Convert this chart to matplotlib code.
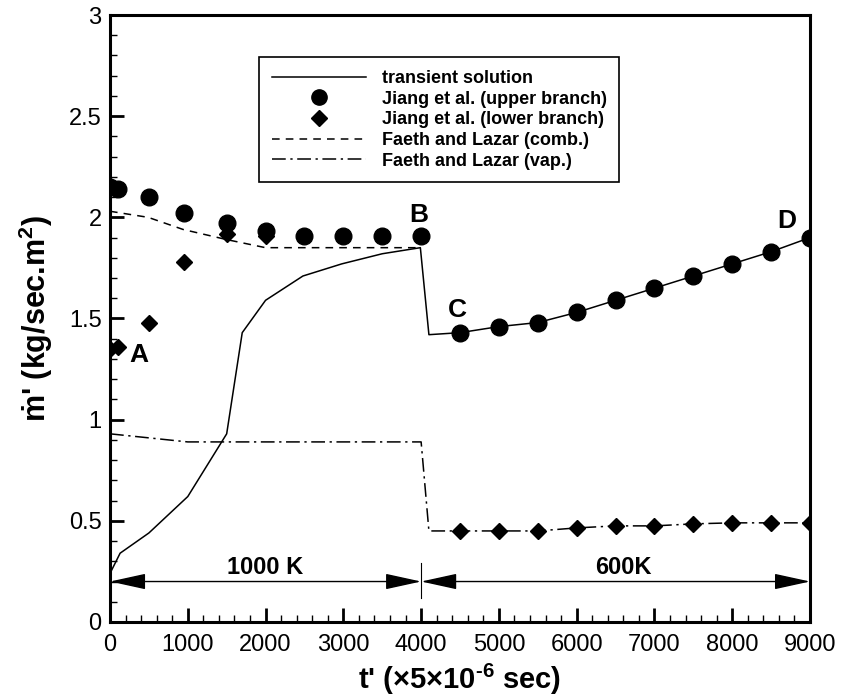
import matplotlib
matplotlib.use("Agg")
import matplotlib.pyplot as plt
from matplotlib.ticker import MultipleLocator

plt.rcParams['font.family'] = ['Liberation Sans', 'DejaVu Sans']
plt.rcParams['mathtext.default'] = 'regular'

# transient solution
t_trans = [0, 130, 500, 1000, 1500, 1700, 2000, 2480, 2980, 3500, 3990, 4100,
           4500, 5000, 5500, 6000, 6500, 7000, 7500, 8000, 8500, 9000]
m_trans = [0.24, 0.34, 0.44, 0.62, 0.93, 1.43, 1.59, 1.71, 1.77, 1.82, 1.85, 1.42,
           1.43, 1.46, 1.48, 1.53, 1.59, 1.65, 1.71, 1.77, 1.83, 1.90]

# Jiang et al. upper branch
t_up = [0, 100, 500, 950, 1500, 2000, 2500, 3000, 3500, 4000,
        4500, 5000, 5500, 6000, 6500, 7000, 7500, 8000, 8500, 9000]
m_up = [2.15, 2.14, 2.10, 2.02, 1.97, 1.93, 1.91, 1.91, 1.91, 1.91,
        1.43, 1.46, 1.48, 1.53, 1.59, 1.65, 1.71, 1.77, 1.83, 1.90]

# Jiang et al. lower branch
t_low = [0, 100, 500, 950, 1500, 2000,
         4500, 5000, 5500, 6000, 6500, 7000, 7500, 8000, 8500, 9000]
m_low = [1.35, 1.36, 1.48, 1.78, 1.92, 1.91,
         0.45, 0.45, 0.45, 0.465, 0.475, 0.475, 0.485, 0.49, 0.49, 0.49]

# Faeth and Lazar (comb.)
t_comb = [0, 490, 940, 1500, 2000, 4000]
m_comb = [2.03, 2.00, 1.94, 1.89, 1.85, 1.85]

# Faeth and Lazar (vap.)
t_vap = [0, 1000, 4000, 4100, 4500, 5000, 5500, 6000, 6500, 7000, 7500, 8000, 8500, 9000]
m_vap = [0.93, 0.89, 0.89, 0.45, 0.45, 0.45, 0.45, 0.465, 0.475, 0.475, 0.485, 0.49, 0.49, 0.49]

points = {'A': (375, 1.32), 'B': (3970, 2.01), 'C': (4470, 1.54), 'D': (8700, 1.98)}

fig = plt.figure(figsize=(8.41, 6.98), dpi=100)
ax = fig.add_axes([0.1308, 0.1089, 0.8324, 0.8696])

ax.plot(t_trans, m_trans, color='black', lw=1.1, label='transient solution')
ax.plot(t_up, m_up, 'o', color='black', ms=12, label='Jiang et al. (upper branch)')
ax.plot(t_low, m_low, 'D', color='black', ms=8.5, label='Jiang et al. (lower branch)')
ax.plot(t_comb, m_comb, color='black', lw=1.1, ls=(0, (5, 4)), label='Faeth and Lazar (comb.)')
ax.plot(t_vap, m_vap, color='black', lw=1.1, ls=(0, (9, 3, 1.5, 3)), label='Faeth and Lazar (vap.)')

for name, (x, y) in points.items():
    ax.text(x, y, name, fontsize=19, fontweight='bold', ha='center', va='center')

# temperature ranges
arrow = dict(arrowstyle='<|-|>,head_length=1.6,head_width=0.35', color='black', lw=1,
             shrinkA=0, shrinkB=0, mutation_scale=14)
ax.annotate('', xy=(0, 0.2), xytext=(4000, 0.2), arrowprops=arrow)
ax.annotate('', xy=(4000, 0.2), xytext=(9000, 0.2), arrowprops=arrow)
ax.plot([4000, 4000], [0.12, 0.29], color='black', lw=0.8)
ax.text(2000, 0.27, '1000 K', fontsize=17, fontweight='bold', ha='center', va='center')
ax.text(6600, 0.27, '600K', fontsize=17, fontweight='bold', ha='center', va='center')

ax.set_xlim(0, 9000)
ax.set_ylim(0, 3)
ax.xaxis.set_major_locator(MultipleLocator(1000))
ax.xaxis.set_minor_locator(MultipleLocator(200))
ax.yaxis.set_major_locator(MultipleLocator(0.5))
ax.yaxis.set_minor_locator(MultipleLocator(0.1))
ax.set_yticks([0, 0.5, 1, 1.5, 2, 2.5, 3], ['0', '0.5', '1', '1.5', '2', '2.5', '3'])
ax.tick_params(which='major', direction='in', length=10, width=2, labelsize=17)
ax.tick_params(axis='x', which='major', pad=9)
ax.tick_params(axis='y', which='major', pad=6)
ax.tick_params(which='minor', direction='in', length=5, width=1)
for s in ax.spines.values():
    s.set_linewidth(2.2)

ax.set_xlabel("t' ($\\times$5$\\times$10$^{\u20106}$ sec)", fontsize=21, fontweight='bold', labelpad=4)
ax.set_ylabel("ṁ' (kg/sec.m$^{2}$)", fontsize=22, fontweight='bold', labelpad=10)

leg = ax.legend(loc='upper left', bbox_to_anchor=(0.2, 0.945), fancybox=False,
                edgecolor='black', framealpha=1, handlelength=5.2, handletextpad=0.9,
                borderpad=0.7, labelspacing=0.2,
                prop={'weight': 'bold', 'size': 13})
leg.get_frame().set_linewidth(1.2)
for h in leg.legend_handles:
    if h.get_marker() == 'o':
        h.set_markersize(11)

fig.savefig('out.png', dpi=100)
